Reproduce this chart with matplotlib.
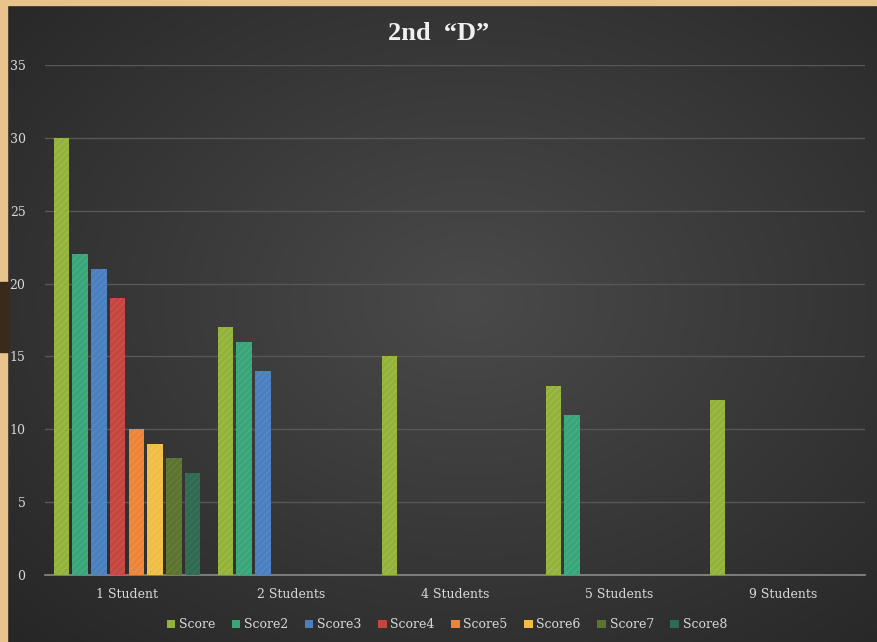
import numpy as np
import matplotlib.pyplot as plt
from matplotlib.patches import Rectangle

categories = ["1 Student", "2 Students", "4 Students", "5 Students", "9 Students"]
series = ["Score", "Score2", "Score3", "Score4", "Score5", "Score6", "Score7", "Score8"]
score  = [30, 17, 15, 13, 12]
score2 = [22, 16, 0, 11, 0]
score3 = [21, 14, 0, 0, 0]
score4 = [19, 0, 0, 0, 0]
score5 = [10, 0, 0, 0, 0]
score6 = [9, 0, 0, 0, 0]
score7 = [8, 0, 0, 0, 0]
score8 = [7, 0, 0, 0, 0]
values = [score, score2, score3, score4, score5, score6, score7, score8]
colors = ["#93b23a", "#3aa57a", "#4a7fc0", "#c4463f", "#ee8437", "#f0bd45", "#5c7430", "#2f6b52"]
hatch_colors = ["#a5c151", "#50b58a", "#608fca", "#cd5c55", "#f29753", "#f3c862", "#6c843d", "#3e7a60"]

plt.rcParams["hatch.linewidth"] = 0.6
fig = plt.figure(figsize=(8.77, 6.42), dpi=100)

# background: dark radial gradient with a tan frame on the top/left
bg = fig.add_axes([0, 0, 1, 1], zorder=0)
yy, xx = np.mgrid[0:642, 0:877]
r = np.sqrt(((xx - 470) / 600.0) ** 2 + ((yy - 300) / 450.0) ** 2)
shade = np.clip(0.29 - 0.13 * r, 0.14, 0.29)
img = np.dstack([shade, shade, shade])
bg.imshow(img, extent=[0, 877, 642, 0], aspect="auto")
bg.add_patch(Rectangle((0, 0), 877, 5, color="#e8c48c"))
bg.add_patch(Rectangle((0, 0), 7, 642, color="#e8c48c"))
bg.add_patch(Rectangle((0, 282), 8, 70, color="#3a2a1c"))
bg.set_xlim(0, 877)
bg.set_ylim(642, 0)
bg.axis("off")

ax = fig.add_axes([45 / 877, 67 / 642, 820 / 877, 510 / 642], zorder=1)
ax.patch.set_alpha(0)

x = np.arange(len(categories))
slot = 0.1143
bw = 0.094
for i, (name, vals) in enumerate(zip(series, values)):
    offs = (i - 3.5) * slot
    ax.bar(x + offs, vals, width=bw, color=colors[i], edgecolor=hatch_colors[i],
           hatch="/////", linewidth=0, label=name, zorder=3)

ax.set_xlim(-0.5, len(categories) - 0.5)
ax.set_ylim(0, 35)
ax.set_yticks(range(0, 36, 5))
ax.set_xticks(x)
ax.set_xticklabels(categories)
ax.grid(axis="y", color="#575757", linewidth=1.0, zorder=0)
for s in ["top", "right", "left"]:
    ax.spines[s].set_visible(False)
ax.spines["bottom"].set_color("#8a8a8a")
ax.spines["bottom"].set_linewidth(1.2)
ax.tick_params(axis="both", length=0, colors="#d8d8d8", labelsize=9)
ax.tick_params(axis="y", pad=14)
ax.tick_params(axis="x", pad=9)
for lab in ax.get_xticklabels() + ax.get_yticklabels():
    lab.set_family("DejaVu Serif")

fig.text(0.5, 0.948, "2nd  \u201cD\u201d", ha="center", va="center", fontsize=19,
         fontweight="bold", color="#f0f0f0", family="Liberation Serif")

leg = ax.legend(loc="center", bbox_to_anchor=(0.49, -0.098), ncol=8, frameon=False,
                handlelength=0.7, handleheight=0.7, handletextpad=0.3, columnspacing=1.3,
                prop={"family": "DejaVu Serif", "size": 9})
for t in leg.get_texts():
    t.set_color("#d8d8d8")
for h in leg.legend_handles:
    h.set_hatch(None)

fig.savefig("out.png", dpi=100)
